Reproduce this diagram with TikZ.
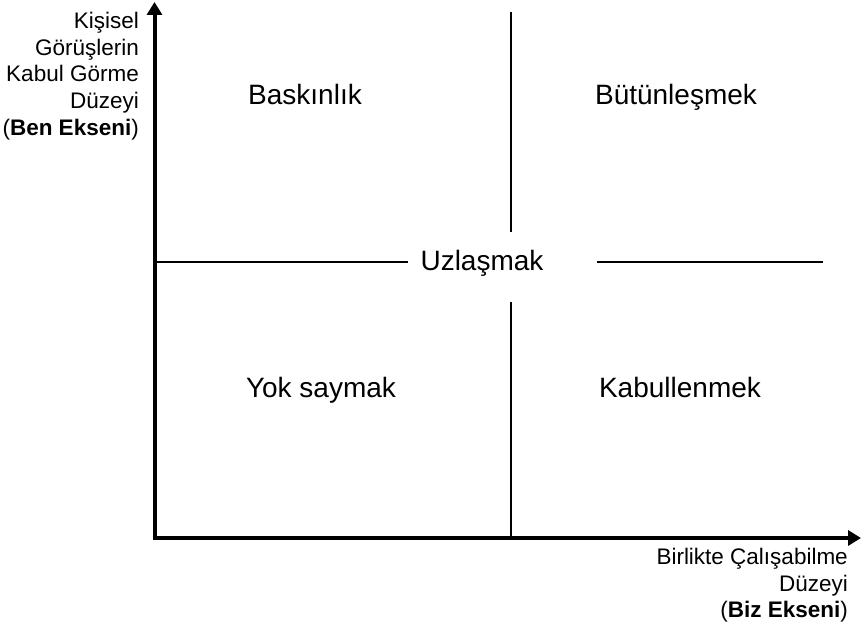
\documentclass[tikz,border=0pt]{standalone}
\usepackage{fontspec}
\setmainfont{Liberation Sans}
\usetikzlibrary{arrows.meta}
\tikzset{
  quad/.style={anchor=base,inner sep=0pt,font=\fontsize{28}{33}\selectfont},
  axislabel/.style={inner sep=0pt,align=right,font=\fontsize{22.5}{26.7}\selectfont},
  axis/.style={line width=4pt,-{Triangle[length=13pt,width=15pt]}},
  divider/.style={line width=1.8pt}
}
\begin{document}
\begin{tikzpicture}[x=1pt,y=-1pt]
  \useasboundingbox (0,0) rectangle (861,626);
  % axes
  \coordinate (origin) at (152.5,538);
  \coordinate (ytop) at (154.5,2);
  \coordinate (xend) at (861,538);
  \draw[axis] (154.5,540) -- (ytop);
  \draw[axis] (origin) -- (xend);
  % dividers
  \coordinate (vtop) at (511,12);
  \coordinate (vmid1) at (511,232);
  \coordinate (vmid2) at (511,302);
  \coordinate (vbot) at (511,538);
  \coordinate (hleft) at (156,262);
  \coordinate (hmid1) at (408,262);
  \coordinate (hmid2) at (597,262);
  \coordinate (hright) at (823,262);
  \draw[divider] (vtop) -- (vmid1);
  \draw[divider] (vmid2) -- (vbot);
  \draw[divider] (hleft) -- (hmid1);
  \draw[divider] (hmid2) -- (hright);
  % quadrant labels
  \node[quad] (baskin) at (305,104) {Baskınlık};
  \node[quad] (butun) at (676,104) {Bütünleşmek};
  \node[quad] (uzlas) at (482,270) {Uzlaşmak};
  \node[quad] (yok) at (321,397) {Yok saymak};
  \node[quad] (kabul) at (680,397) {Kabullenmek};
  % axis labels
  \node[axislabel,anchor=north east] (benlabel) at (139,12)
    {Kişisel\\Görüşlerin\\Kabul Görme\\Düzeyi\\(\textbf{Ben Ekseni})};
  \node[axislabel,anchor=north east] (bizlabel) at (848,548)
    {Birlikte Çalışabilme\\Düzeyi\\(\textbf{Biz Ekseni})};
\end{tikzpicture}
\end{document}
